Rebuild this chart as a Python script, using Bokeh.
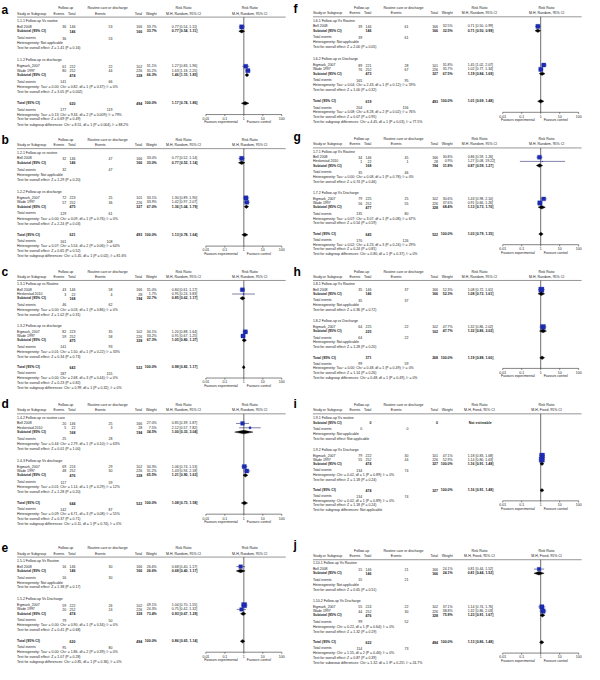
from bokeh.plotting import figure
from bokeh.models import ColumnDataSource, Range1d, LogScale
from bokeh.embed import file_html
from bokeh.resources import INLINE
from bokeh.core.properties import value

# ---------------- data ----------------
# study rows: (subgroup, study, exp events, exp total, ctrl events, ctrl total, weight %, RR, lower, upper)
# subtotal rows: (exp total, ctrl total, weight %, RR, lower, upper, exp events, ctrl events, heterogeneity, overall test)
# total: (exp total, ctrl total, RR, lower, upper, exp events, ctrl events, heterogeneity, overall test, subgroup test)

A_GROUPS = ["1.1.1 Follow-up Vs routine", "1.1.2 Follow-up vs discharge"]
A_STUDIES = [
    (0, "Bell 2008", 36, 146, 53, 166, 33.7, 0.77, 0.54, 1.11),
    (1, "Eigmark_2007", 61, 222, 22, 102, 31.1, 1.27, 0.83, 1.96),
    (1, "Wade 1997", 80, 252, 44, 226, 35.2, 1.63, 1.18, 2.25),
]
A_SUBTOTALS = [
    (146, 166, 33.7, 0.77, 0.54, 1.11, 36, 53, "Heterogeneity: Not applicable",
     "Test for overall effect: Z = 1.41 (P = 0.16)"),
    (474, 328, 66.3, 1.46, 1.15, 1.85, 141, 66,
     "Heterogeneity: Tau² = 0.00; Chi² = 0.82, df = 1 (P = 0.37); I² = 0%",
     "Test for overall effect: Z = 3.05 (P = 0.002)"),
]
A_TOTAL = (620, 494, 1.17, 0.74, 1.86, 177, 119,
           "Heterogeneity: Tau² = 0.13; Chi² = 9.34, df = 2 (P = 0.009); I² = 79%",
           "Test for overall effect: Z = 0.69 (P = 0.49)",
           "Test for subgroup differences: Chi² = 8.51, df = 1 (P = 0.004), I² = 88.2%")

B_GROUPS = ["1.2.1 Follow-up vs routine", "1.2.2 Follow-up vs discharge"]
B_STUDIES = [
    (0, "Bell 2008", 32, 146, 47, 166, 33.0, 0.77, 0.52, 1.14),
    (1, "Eigmark_2007", 72, 223, 25, 101, 33.1, 1.30, 0.89, 1.90),
    (1, "Wade 1997", 57, 252, 36, 226, 33.9, 1.42, 0.97, 2.07),
]
B_SUBTOTALS = [
    (146, 166, 33.0, 0.77, 0.52, 1.14, 32, 47, "Heterogeneity: Not applicable",
     "Test for overall effect: Z = 1.29 (P = 0.20)"),
    (475, 327, 67.0, 1.36, 1.04, 1.79, 129, 61,
     "Heterogeneity: Tau² = 0.00; Chi² = 0.09, df = 1 (P = 0.76); I² = 0%",
     "Test for overall effect: Z = 2.24 (P = 0.03)"),
]
B_TOTAL = (621, 493, 1.13, 0.78, 1.64, 161, 108,
           "Heterogeneity: Tau² = 0.07; Chi² = 5.54, df = 2 (P = 0.06); I² = 64%",
           "Test for overall effect: Z = 0.65 (P = 0.52)",
           "Test for subgroup differences: Chi² = 5.45, df = 1 (P = 0.02), I² = 81.6%")

C_GROUPS = ["1.3.1 Follow-up vs Routine", "1.3.2 Follow-up vs discharge"]
C_STUDIES = [
    (0, "Bell 2008", 43, 146, 58, 166, 31.0, 0.84, 0.61, 1.17),
    (0, "Heskestad 2010", 3, 22, 4, 28, 1.7, 0.95, 0.24, 3.83),
    (1, "Eigmark_2007", 82, 223, 35, 102, 34.1, 1.20, 0.88, 1.64),
    (1, "Wade 1997", 59, 252, 58, 226, 33.2, 0.91, 0.67, 1.25),
]
C_SUBTOTALS = [
    (168, 194, 32.7, 0.85, 0.62, 1.17, 46, 62,
     "Heterogeneity: Tau² = 0.00; Chi² = 0.03, df = 1 (P = 0.86); I² = 0%",
     "Test for overall effect: Z = 1.02 (P = 0.31)"),
    (475, 328, 67.3, 1.05, 0.80, 1.37, 141, 93,
     "Heterogeneity: Tau² = 0.01; Chi² = 1.50, df = 1 (P = 0.22); I² = 33%",
     "Test for overall effect: Z = 0.34 (P = 0.73)"),
]
C_TOTAL = (643, 522, 0.98, 0.82, 1.17, 187, 155,
           "Heterogeneity: Tau² = 0.00; Chi² = 2.68, df = 3 (P = 0.44); I² = 0%",
           "Test for overall effect: Z = 0.23 (P = 0.82)",
           "Test for subgroup differences: Chi² = 0.99, df = 1 (P = 0.32), I² = 0%")

D_GROUPS = ["1.4.2 Follow-up vs routine care", "1.4.3 Follow-up Vs discharge"]
D_STUDIES = [
    (0, "Bell 2008", 20, 146, 25, 166, 27.0, 0.85, 0.39, 1.87),
    (0, "Heskestad 2010", 5, 22, 3, 28, 7.5, 2.12, 0.57, 7.82),
    (1, "Eigmark_2007", 69, 224, 29, 102, 34.3, 1.06, 0.74, 1.53),
    (1, "Wade 1997", 48, 252, 30, 226, 31.2, 1.43, 0.94, 2.18),
]
D_SUBTOTALS = [
    (168, 194, 34.5, 1.00, 0.33, 3.04, 25, 28,
     "Heterogeneity: Tau² = 0.44; Chi² = 2.79, df = 1 (P = 0.10); I² = 63%",
     "Test for overall effect: Z = 0.01 (P = 1.00)"),
    (476, 328, 65.5, 1.21, 0.90, 1.63, 117, 59,
     "Heterogeneity: Tau² = 0.01; Chi² = 1.14, df = 1 (P = 0.29); I² = 12%",
     "Test for overall effect: Z = 1.28 (P = 0.20)"),
]
D_TOTAL = (644, 522, 1.08, 0.73, 1.58, 142, 87,
           "Heterogeneity: Tau² = 0.09; Chi² = 6.71, df = 3 (P = 0.08); I² = 55%",
           "Test for overall effect: Z = 0.37 (P = 0.71)",
           "Test for subgroup differences: Chi² = 0.11, df = 1 (P = 0.74), I² = 0%")

E_GROUPS = ["1.5.1 Follow-up Vs Routine", "1.5.2 Follow-up Vs Discharge"]
E_STUDIES = [
    (0, "Bell 2008", 16, 146, 30, 166, 26.6, 0.68, 0.40, 1.17),
    (1, "Eigmark_2007", 59, 222, 26, 102, 49.1, 1.04, 0.70, 1.55),
    (1, "Wade 1997", 20, 252, 24, 226, 24.3, 0.75, 0.42, 1.32),
]
E_SUBTOTALS = [
    (146, 166, 26.6, 0.68, 0.40, 1.17, 16, 30, "Heterogeneity: Not applicable",
     "Test for overall effect: Z = 1.38 (P = 0.17)"),
    (474, 328, 73.4, 0.93, 0.67, 1.29, 79, 50,
     "Heterogeneity: Tau² = 0.00; Chi² = 0.90, df = 1 (P = 0.34); I² = 0%",
     "Test for overall effect: Z = 0.41 (P = 0.68)"),
]
E_TOTAL = (620, 494, 0.86, 0.65, 1.14, 95, 80,
           "Heterogeneity: Tau² = 0.00; Chi² = 1.86, df = 2 (P = 0.39); I² = 0%",
           "Test for overall effect: Z = 1.07 (P = 0.28)",
           "Test for subgroup differences: Chi² = 0.85, df = 1 (P = 0.36), I² = 0%")

F_GROUPS = ["1.6.1 Follow-up Vs Routine", "1.6.2 Follow-up vs Discharge"]
F_STUDIES = [
    (0, "Bell 2008", 39, 146, 61, 166, 32.5, 0.71, 0.50, 0.99),
    (1, "Eigmark_2007", 89, 221, 28, 101, 31.8, 1.45, 1.02, 2.07),
    (1, "Wade 1997", 76, 252, 67, 226, 35.7, 1.02, 0.77, 1.34),
]
F_SUBTOTALS = [
    (146, 166, 32.5, 0.71, 0.50, 0.99, 39, 61, "Heterogeneity: Not applicable",
     "Test for overall effect: Z = 2.00 (P = 0.05)"),
    (473, 327, 67.5, 1.19, 0.84, 1.69, 165, 95,
     "Heterogeneity: Tau² = 0.04; Chi² = 2.43, df = 1 (P = 0.12); I² = 59%",
     "Test for overall effect: Z = 1.00 (P = 0.32)"),
]
F_TOTAL = (619, 493, 1.01, 0.69, 1.48, 204, 156,
           "Heterogeneity: Tau² = 0.08; Chi² = 8.28, df = 2 (P = 0.02); I² = 76%",
           "Test for overall effect: Z = 0.07 (P = 0.95)",
           "Test for subgroup differences: Chi² = 4.45, df = 1 (P = 0.03), I² = 77.5%")

G_GROUPS = ["1.7.1 Follow-up Vs Routine", "1.7.2 Follow-up Vs Discharge"]
G_STUDIES = [
    (0, "Bell 2008", 34, 146, 45, 166, 30.8, 0.86, 0.59, 1.26),
    (0, "Heskestad 2010", 1, 22, 1, 28, 0.9, 1.27, 0.08, 19.22),
    (1, "Eigmark_2007", 79, 225, 25, 102, 30.6, 1.43, 0.98, 2.10),
    (1, "Wade 1997", 56, 252, 55, 226, 37.6, 0.91, 0.66, 1.26),
]
G_SUBTOTALS = [
    (168, 194, 31.8, 0.87, 0.59, 1.27, 35, 46,
     "Heterogeneity: Tau² = 0.00; Chi² = 0.08, df = 1 (P = 0.78); I² = 0%",
     "Test for overall effect: Z = 0.74 (P = 0.46)"),
    (477, 328, 68.4, 1.13, 0.73, 1.76, 135, 80,
     "Heterogeneity: Tau² = 0.07; Chi² = 3.07, df = 1 (P = 0.08); I² = 67%",
     "Test for overall effect: Z = 0.54 (P = 0.59)"),
]
G_TOTAL = (645, 522, 1.03, 0.79, 1.35, 170, 126,
           "Heterogeneity: Tau² = 0.02; Chi² = 4.23, df = 3 (P = 0.24); I² = 29%",
           "Test for overall effect: Z = 0.24 (P = 0.81)",
           "Test for subgroup differences: Chi² = 0.80, df = 1 (P = 0.37), I² = 0%")

H_GROUPS = ["1.8.1 Follow-up Vs Routine", "1.8.2 Follow-up vs Discharge"]
H_STUDIES = [
    (0, "Bell 2008", 35, 146, 37, 166, 52.3, 1.08, 0.72, 1.61),
    (1, "Eigmark_2007", 64, 225, 22, 102, 47.7, 1.32, 0.86, 2.02),
]
H_SUBTOTALS = [
    (146, 166, 52.3, 1.08, 0.72, 1.61, 35, 37, "Heterogeneity: Not applicable",
     "Test for overall effect: Z = 0.36 (P = 0.72)"),
    (225, 102, 47.7, 1.32, 0.86, 2.02, 64, 22, "Heterogeneity: Not applicable",
     "Test for overall effect: Z = 1.28 (P = 0.20)"),
]
H_TOTAL = (371, 268, 1.19, 0.88, 1.60, 99, 59,
           "Heterogeneity: Tau² = 0.00; Chi² = 0.48, df = 1 (P = 0.49); I² = 0%",
           "Test for overall effect: Z = 1.14 (P = 0.26)",
           "Test for subgroup differences: Chi² = 0.48, df = 1 (P = 0.49), I² = 0%")

I_GROUPS = ["1.9.1 Follow-up Vs routine", "1.9.2 Follow-up Vs Discharge"]
I_STUDIES = [
    (1, "Eigmark_2007", 79, 222, 30, 101, 47.1, 1.18, 0.83, 1.68),
    (1, "Wade 1997", 55, 252, 44, 226, 52.9, 1.14, 0.80, 1.63),
]
I_SUBTOTALS = [
    (0, 0, None, None, None, None, 0, 0, "Heterogeneity: Not applicable",
     "Test for overall effect: Not applicable"),
    (474, 327, 100.0, 1.16, 0.91, 1.48, 134, 74,
     "Heterogeneity: Chi² = 0.02, df = 1 (P = 0.89); I² = 0%",
     "Test for overall effect: Z = 1.18 (P = 0.24)"),
]
I_TOTAL = (474, 327, 1.16, 0.91, 1.48, 134, 74,
           "Heterogeneity: Chi² = 0.02, df = 1 (P = 0.89); I² = 0%",
           "Test for overall effect: Z = 1.18 (P = 0.24)",
           "Test for subgroup differences: Not applicable")

J_GROUPS = ["1.10.1 Follow-up Vs Routine", "1.10.2 Follow-up Vs Discharge"]
J_STUDIES = [
    (0, "Bell 2008", 15, 146, 21, 166, 24.1, 0.81, 0.44, 1.52),
    (1, "Eigmark_2007", 55, 224, 22, 102, 37.1, 1.14, 0.74, 1.76),
    (1, "Wade 1997", 44, 252, 30, 226, 38.8, 1.32, 0.86, 2.03),
]
J_SUBTOTALS = [
    (146, 166, 24.1, 0.81, 0.44, 1.52, 15, 21, "Heterogeneity: Not applicable",
     "Test for overall effect: Z = 0.65 (P = 0.51)"),
    (476, 328, 75.9, 1.23, 0.91, 1.67, 99, 52,
     "Heterogeneity: Chi² = 0.22, df = 1 (P = 0.64); I² = 0%",
     "Test for overall effect: Z = 1.32 (P = 0.19)"),
]
J_TOTAL = (622, 494, 1.13, 0.86, 1.48, 114, 73,
           "Heterogeneity: Chi² = 1.55, df = 2 (P = 0.46); I² = 0%",
           "Test for overall effect: Z = 0.87 (P = 0.39)",
           "Test for subgroup differences: Chi² = 1.32, df = 1 (P = 0.25), I² = 24.7%")

RANDOM = "M-H, Random, 95% CI"
FIXED = "M-H, Fixed, 95% CI"

TICKS = [0.01, 0.1, 1, 10, 100]
TICK_LABELS = ["0.01", "0.1", "1", "10", "100"]

# panel: letter, column, header-rule y, letter baseline y, row spacing factor, method, data
PANELS = [
    ("a", 0, 17.0, 10, 1.00, RANDOM, A_GROUPS, A_STUDIES, A_SUBTOTALS, A_TOTAL),
    ("b", 0, 151.7, 143, 1.00, RANDOM, B_GROUPS, B_STUDIES, B_SUBTOTALS, B_TOTAL),
    ("c", 0, 286.7, 278, 0.958, RANDOM, C_GROUPS, C_STUDIES, C_SUBTOTALS, C_TOTAL),
    ("d", 0, 423.3, 413, 0.985, RANDOM, D_GROUPS, D_STUDIES, D_SUBTOTALS, D_TOTAL),
    ("e", 0, 570.0, 560, 0.976, RANDOM, E_GROUPS, E_STUDIES, E_SUBTOTALS, E_TOTAL),
    ("f", 1, 16.7, 9, 0.98, RANDOM, F_GROUPS, F_STUDIES, F_SUBTOTALS, F_TOTAL),
    ("g", 1, 151.0, 140, 0.95, RANDOM, G_GROUPS, G_STUDIES, G_SUBTOTALS, G_TOTAL),
    ("h", 1, 286.7, 278, 0.945, RANDOM, H_GROUPS, H_STUDIES, H_SUBTOTALS, H_TOTAL),
    ("i", 1, 423.3, 413, 0.94, FIXED, I_GROUPS, I_STUDIES, I_SUBTOTALS, I_TOTAL),
    ("j", 1, 572.7, 558, 0.958, FIXED, J_GROUPS, J_STUDIES, J_SUBTOTALS, J_TOTAL),
]

# ---------------- layout constants (reference pixel units) ----------------
COL_DX = 304          # horizontal offset of right column (table)
PLOT_DX = 305         # horizontal offset of right column (forest plot)
DEC = 19.5            # px per decade
AX1 = 250             # x of RR = 1 (left column)
X_LABEL, X_EEV, X_ETOT, X_CEV, X_CTOT, X_W, X_CI = 17, 67.5, 77, 115, 145.5, 160.5, 176
FONT = value("Liberation Sans")
FS = value("3.5px")
TXT_COLOR = "#1a1a1a"

p = figure(width=584, height=664, x_range=Range1d(0, 600), y_range=Range1d(680, 0),
           x_axis_type=None, y_axis_type=None, toolbar_location=None,
           output_backend="svg", min_border=0, outline_line_color=None)
p.background_fill_color = "white"
p.border_fill_color = "white"


def log_range(x_one):
    return Range1d(10 ** (-x_one / DEC), 10 ** ((600 - x_one) / DEC))


p.extra_x_ranges = {"L": log_range(AX1), "R": log_range(AX1 + PLOT_DX)}
p.extra_x_scales = {"L": LogScale(), "R": LogScale()}

TXT = {}


def add(x, y, t, align="left", bold=False):
    d = TXT.setdefault((align, bold), {"x": [], "y": [], "t": []})
    d["x"].append(x)
    d["y"].append(y)
    d["t"].append(t)


def ci_text(rr, lo, hi):
    return f"{rr:.2f} [{lo:.2f}, {hi:.2f}]"


GL = {k: {"sq_x": [], "sq_y": [], "sq_s": [], "ci_lo": [], "ci_hi": [], "ci_y": [],
          "dm_xs": [], "dm_ys": [], "v_y0": [], "v_y1": [], "ax_y": [],
          "tk_x": [], "tk_y": [], "tl_t": [], "fv_y": []} for k in ("L", "R")}
HL = {"x0": [], "x1": [], "y": []}
LET = {"x": [], "y": [], "t": []}

for (letter, col, ly, lety, s, method, groups, studies, subtotals, total) in PANELS:
    ox = col * COL_DX
    px = col * PLOT_DX
    g = GL["L" if col == 0 else "R"]
    LET["x"].append(ox + 1 - (4 if col else 0))
    LET["y"].append(lety)
    LET["t"].append(letter)
    # headers
    y1, y2 = ly - 9, ly - 3.6
    add(ox + 67, y1, "Follow-up", "center")
    add(ox + 110, y1, "Routine care or discharge", "center")
    add(ox + 188, y1, "Risk Ratio", "center")
    add(px + 256, y1, "Risk Ratio", "center")
    add(ox + X_LABEL, y2, "Study or Subgroup")
    add(ox + 65.5, y2, "Events", "right")
    add(ox + X_ETOT, y2, "Total", "right")
    add(ox + 108, y2, "Events", "right")
    add(ox + X_CTOT, y2, "Total", "right")
    add(ox + X_W, y2, "Weight", "right")
    add(ox + 188, y2, method, "center")
    add(px + 256, y2, method, "center")
    HL["x0"].append(ox + 17)
    HL["x1"].append(min(px + 293, 597))
    HL["y"].append(ly)

    def diamond(rr, lo, hi, y, h=1.8):
        g["dm_xs"].append([lo, rr, hi, rr])
        g["dm_ys"].append([y, y - h, y, y + h])

    y = ly + 4 * s
    for gi in (0, 1):
        if gi == 1:
            y += 12.5 * s
        add(ox + X_LABEL, y, groups[gi])
        rows = [st for st in studies if st[0] == gi]
        for k, st in enumerate(rows):
            y += (6 if k == 0 else 4.5) * s
            _, name, eev, etot, cev, ctot, w, rr, lo, hi = st
            add(ox + X_LABEL, y, name)
            add(ox + X_EEV, y, str(eev), "right")
            add(ox + X_ETOT, y, str(etot), "right")
            add(ox + X_CEV, y, str(cev), "right")
            add(ox + X_CTOT, y, str(ctot), "right")
            add(ox + X_W, y, f"{w:.1f}%", "right")
            add(ox + X_CI, y, ci_text(rr, lo, hi))
            g["sq_x"].append(rr)
            g["sq_y"].append(y)
            g["sq_s"].append(0.72 * w ** 0.5)
            g["ci_lo"].append(lo)
            g["ci_hi"].append(hi)
            g["ci_y"].append(y)
        y += (4.5 if rows else 5.5) * s
        etot, ctot, w, rr, lo, hi, eev, cev, het, test = subtotals[gi]
        add(ox + X_LABEL, y, "Subtotal (95% CI)", bold=True)
        add(ox + X_ETOT, y, str(etot), "right", True)
        add(ox + X_CTOT, y, str(ctot), "right", True)
        if w is not None:
            add(ox + X_W, y, f"{w:.1f}%", "right", True)
            add(ox + X_CI, y, ci_text(rr, lo, hi), bold=True)
            diamond(rr, lo, hi, y)
        else:
            add(ox + X_CI + 1, y, "Not estimable", bold=True)
        y += 7 * s
        add(ox + X_LABEL, y, "Total events")
        add(ox + X_EEV, y, str(eev), "right")
        add(ox + X_CEV, y, str(cev), "right")
        y += 5.2 * s
        add(ox + X_LABEL, y, het)
        y += 5.2 * s
        add(ox + X_LABEL, y, test)
    etot, ctot, rr, lo, hi, eev, cev, het, test, sub = total
    y += 11.5 * s
    add(ox + X_LABEL, y, "Total (95% CI)", bold=True)
    add(ox + X_ETOT, y, str(etot), "right", True)
    add(ox + X_CTOT, y, str(ctot), "right", True)
    add(ox + X_W, y, "100.0%", "right", True)
    add(ox + X_CI, y, ci_text(rr, lo, hi), bold=True)
    diamond(rr, lo, hi, y)
    y += 6.5 * s
    add(ox + X_LABEL, y, "Total events")
    add(ox + X_EEV, y, str(eev), "right")
    add(ox + X_CEV, y, str(cev), "right")
    y += 5 * s
    add(ox + X_LABEL, y, het)
    axis_y = y
    y += 5 * s
    add(ox + X_LABEL, y, test)
    y += 5.5 * s
    add(ox + X_LABEL, y, sub)
    g["v_y0"].append(ly)
    g["v_y1"].append(axis_y)
    g["ax_y"].append(axis_y)
    for t, lab in zip(TICKS, TICK_LABELS):
        g["tk_x"].append(t)
        g["tk_y"].append(axis_y)
        g["tl_t"].append(lab)
    g["fv_y"].append(axis_y + 8)

# header rules
p.segment(x0="x0", x1="x1", y0="y", y1="y", source=ColumnDataSource(HL),
          line_color="#6a6a6a", line_width=0.7)

for rng, g in GL.items():
    n = len(g["ax_y"])
    # line of no effect
    p.segment(x0=[1] * n, x1=[1] * n, y0=g["v_y0"], y1=g["v_y1"], x_range_name=rng,
              line_color="#4a4a4a", line_width=0.8)
    # axis
    p.segment(x0=[TICKS[0]] * n, x1=[TICKS[-1]] * n, y0=g["ax_y"], y1=g["ax_y"],
              x_range_name=rng, line_color="#333333", line_width=0.6)
    p.segment(x0=g["tk_x"], x1=g["tk_x"], y0=g["tk_y"], y1=[v + 1.6 for v in g["tk_y"]],
              x_range_name=rng, line_color="#333333", line_width=0.6)
    p.text(x=g["tk_x"], y=[v + 4.0 for v in g["tk_y"]], text=g["tl_t"], x_range_name=rng,
           text_align="center", text_baseline="middle", text_font=FONT, text_font_size=FS,
           text_color=TXT_COLOR)
    p.text(x=[1] * n, y=g["fv_y"], text=["Favours experimental"] * n, x_range_name=rng,
           x_offset=-6, text_align="right", text_baseline="middle", text_font=FONT,
           text_font_size=FS, text_color=TXT_COLOR)
    p.text(x=[1] * n, y=g["fv_y"], text=["Favours control"] * n, x_range_name=rng,
           x_offset=3, text_align="left", text_baseline="middle", text_font=FONT,
           text_font_size=FS, text_color=TXT_COLOR)
    # confidence intervals and study squares
    p.segment(x0=g["ci_lo"], x1=g["ci_hi"], y0=g["ci_y"], y1=g["ci_y"], x_range_name=rng,
              line_color="#2b2b6e", line_width=0.6)
    p.scatter(x=g["sq_x"], y=g["sq_y"], size=g["sq_s"], marker="square", x_range_name=rng,
              fill_color="#1c2bb0", line_color="#1c2bb0", line_width=0.3)
    # pooled diamonds
    p.patches(xs=g["dm_xs"], ys=g["dm_ys"], x_range_name=rng, fill_color="black",
              line_color="black", line_width=0.4)

for (align, bold), d in TXT.items():
    p.text(x="x", y="y", text="t", source=ColumnDataSource(d), text_align=align,
           text_baseline="middle", text_font=FONT, text_font_size=FS,
           text_font_style="bold" if bold else "normal", text_color=TXT_COLOR)

p.text(x="x", y="y", text="t", source=ColumnDataSource(LET), text_align="left",
       text_baseline="alphabetic", text_font=FONT, text_font_size=value("12px"),
       text_font_style="bold", text_color="black")

open("out.html", "w").write(file_html(p, INLINE))
